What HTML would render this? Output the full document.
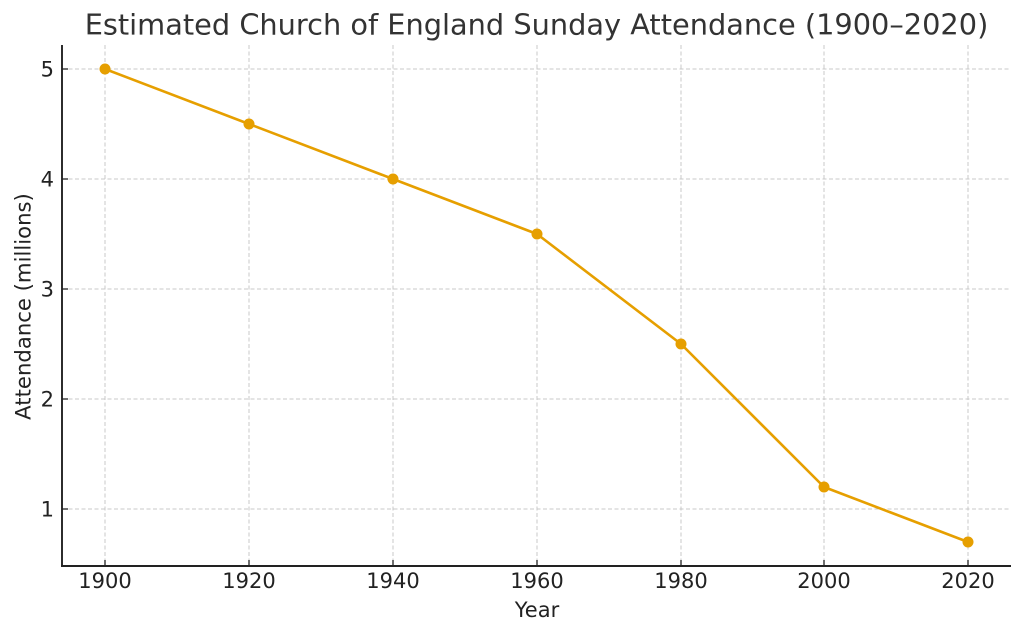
<!DOCTYPE html>
<html><head><meta charset="utf-8"><style>
html,body{margin:0;padding:0;background:#fff;}
svg{display:block;}
text{font-family:"DejaVu Sans","Liberation Sans",sans-serif;}
</style></head><body>
<svg width="1024" height="635" viewBox="0 0 1024 635" xmlns="http://www.w3.org/2000/svg">
<rect width="1024" height="635" fill="#fff"/>
<g stroke="#c8c8c8" stroke-width="1" stroke-dasharray="4,2.5" fill="none">
<line x1="105" y1="45" x2="105" y2="566"/>
<line x1="249" y1="45" x2="249" y2="566"/>
<line x1="393" y1="45" x2="393" y2="566"/>
<line x1="537" y1="45" x2="537" y2="566"/>
<line x1="681" y1="45" x2="681" y2="566"/>
<line x1="824" y1="45" x2="824" y2="566"/>
<line x1="968" y1="45" x2="968" y2="566"/>
<line x1="62" y1="69" x2="1011" y2="69"/>
<line x1="62" y1="179" x2="1011" y2="179"/>
<line x1="62" y1="289" x2="1011" y2="289"/>
<line x1="62" y1="399" x2="1011" y2="399"/>
<line x1="62" y1="509" x2="1011" y2="509"/>
</g>
<polyline points="105,69 249,124 393,179 537,234 681,344 824,487 968,542" fill="none" stroke="#E69F00" stroke-width="2.6" stroke-linejoin="round"/>
<g fill="#E69F00">
<circle cx="105" cy="69" r="5.5"/>
<circle cx="249" cy="124" r="5.5"/>
<circle cx="393" cy="179" r="5.5"/>
<circle cx="537" cy="234" r="5.5"/>
<circle cx="681" cy="344" r="5.5"/>
<circle cx="824" cy="487" r="5.5"/>
<circle cx="968" cy="542" r="5.5"/>
</g>
<g stroke="#222" stroke-width="1.9" fill="none">
<line x1="62" y1="45" x2="62" y2="567"/>
<line x1="61" y1="566" x2="1011" y2="566"/>
</g>
<g stroke="#222" stroke-width="1.3">
<line x1="105" y1="566" x2="105" y2="560"/>
<line x1="249" y1="566" x2="249" y2="560"/>
<line x1="393" y1="566" x2="393" y2="560"/>
<line x1="537" y1="566" x2="537" y2="560"/>
<line x1="681" y1="566" x2="681" y2="560"/>
<line x1="824" y1="566" x2="824" y2="560"/>
<line x1="968" y1="566" x2="968" y2="560"/>
<line x1="62" y1="69" x2="68" y2="69"/>
<line x1="62" y1="179" x2="68" y2="179"/>
<line x1="62" y1="289" x2="68" y2="289"/>
<line x1="62" y1="399" x2="68" y2="399"/>
<line x1="62" y1="509" x2="68" y2="509"/>
</g>
<g fill="#222" font-size="21" text-anchor="middle">
<text x="105" y="588">1900</text>
<text x="249" y="588">1920</text>
<text x="393" y="588">1940</text>
<text x="537" y="588">1960</text>
<text x="681" y="588">1980</text>
<text x="824" y="588">2000</text>
<text x="968" y="588">2020</text>
</g>
<g fill="#222" font-size="21" text-anchor="end">
<text x="54" y="76.5">5</text>
<text x="54" y="186.5">4</text>
<text x="54" y="296.5">3</text>
<text x="54" y="406.5">2</text>
<text x="54" y="516.5">1</text>
</g>
<text x="537" y="617" fill="#222" font-size="21" text-anchor="middle">Year</text>
<text transform="translate(30.5,306.5) rotate(-90)" fill="#222" font-size="21.2" text-anchor="middle">Attendance (millions)</text>
<text x="536.5" y="34.5" fill="#333333" font-size="28.8" text-anchor="middle">Estimated Church of England Sunday Attendance (1900–2020)</text>
</svg>
</body></html>
